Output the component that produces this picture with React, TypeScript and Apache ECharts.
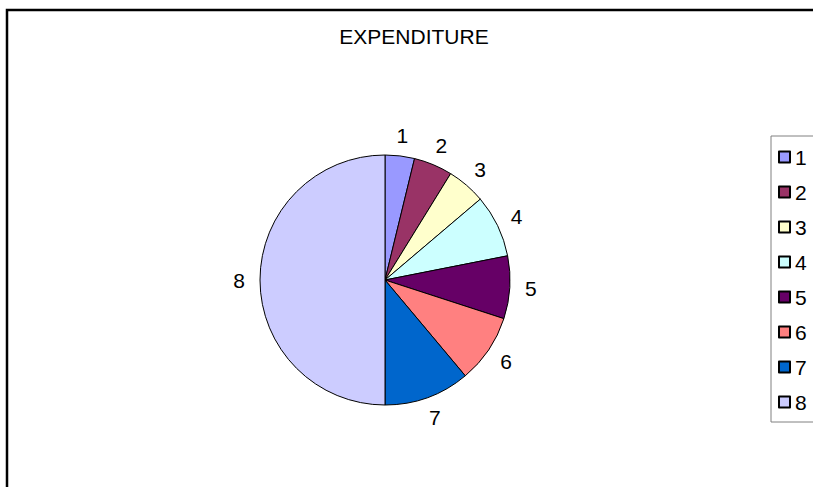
import React, { useEffect, useRef } from "react";
import * as echarts from "echarts";

const categories = ["1", "2", "3", "4", "5", "6", "7", "8"];
const values = [3.8, 5.0, 5.0, 8.1, 8.1, 8.9, 11.1, 50.0];
const colors = ["#9999FF", "#993366", "#FFFFCC", "#CCFFFF", "#660066", "#FF8080", "#0066CC", "#CCCCFF"];
const titleText = "EXPENDITURE";

const FONT = "'Liberation Sans', Arial, sans-serif";

export default function App() {
  const ref = useRef<HTMLDivElement>(null);
  useEffect(() => {
    if (!ref.current) return;
    const chart = echarts.init(ref.current, null, { renderer: "svg" });
    const data = categories.map((c, i) => ({
      name: c,
      value: values[i],
      itemStyle: { color: colors[i] },
    }));
    const labelData = categories.map((c, i) => ({ name: c, value: values[i] }));
    chart.setOption({
      animation: false,
      backgroundColor: "#ffffff",
      title: {
        text: titleText,
        left: 414,
        top: 26,
        textAlign: "center",
        padding: 0,
        textStyle: { fontFamily: FONT, fontSize: 21, fontWeight: "normal", color: "#000" },
      },
      legend: {
        orient: "vertical",
        left: 771,
        top: 136,
        padding: [10, 40, 9, 7],
        itemWidth: 11,
        itemHeight: 11,
        itemGap: 13,
        icon: "rect",
        borderColor: "#808080",
        borderWidth: 1,
        selectedMode: false,
        data: categories,
        textStyle: { fontFamily: FONT, fontSize: 21, color: "#000", lineHeight: 22 },
      },
      graphic: [
        {
          type: "rect",
          shape: { x: 7, y: 10, width: 1200, height: 1200 },
          style: { fill: "none", stroke: "#000", lineWidth: 2.5 },
          silent: true,
        },
      ],
      series: [
        {
          type: "pie",
          center: [385, 280],
          radius: [0, 125],
          startAngle: 90,
          clockwise: true,
          label: { show: false },
          labelLine: { show: false },
          itemStyle: { borderColor: "#000", borderWidth: 1 },
          emphasis: { disabled: true },
          data,
        },
        {
          type: "pie",
          center: [385, 280],
          radius: [138, 148],
          startAngle: 90,
          clockwise: true,
          silent: true,
          legendHoverLink: false,
          itemStyle: { color: "rgba(0,0,0,0)", borderWidth: 0 },
          label: {
            show: true,
            position: "inside",
            formatter: "{b}",
            fontFamily: FONT,
            fontSize: 21,
            color: "#000",
          },
          labelLine: { show: false },
          emphasis: { disabled: true },
          data: labelData,
        },
      ],
    });
    return () => chart.dispose();
  }, []);
  return (
    <div
      ref={ref}
      style={{ position: "absolute", left: 0, top: 0, width: 813, height: 487 }}
    />
  );
}
